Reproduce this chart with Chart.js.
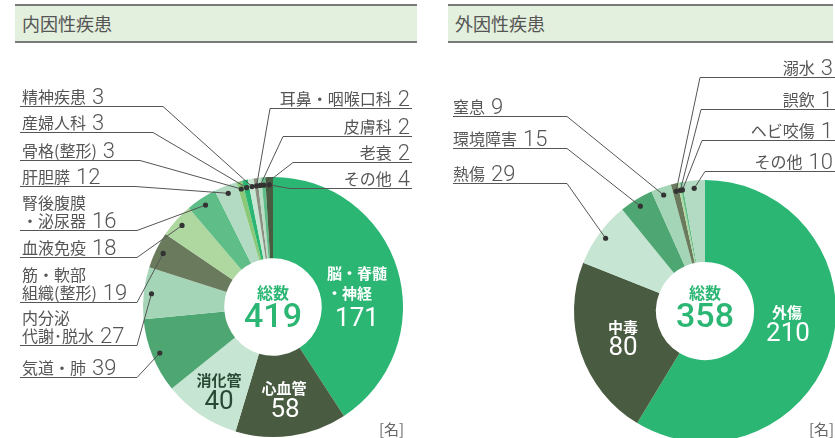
<!DOCTYPE html>
<html>
<head>
<meta charset="utf-8">
<script src="https://cdn.jsdelivr.net/npm/chart.js@4"></script>
<style>
html, body { margin: 0; padding: 0; width: 835px; height: 438px; overflow: hidden; background: #fff; }
.bar { position: absolute; top: 4px; height: 35px; background: #e3f0dd; border-top: 2px solid #7a7a7a; border-bottom: 2px solid #7a7a7a;
       font: 18px "Noto Sans CJK JP"; color: #555; line-height: 35px; padding-left: 7px; box-sizing: border-box; height: 39px; }
.unit { position: absolute; top: 418px; font: 15px "Noto Sans CJK JP"; color: #666; }
canvas { position: absolute; top: 0; }
</style>
</head>
<body>
<div class="bar" style="left:15px;width:402px">内因性疾患</div>
<div class="bar" style="left:448px;width:385px">外因性疾患</div>
<canvas id="naiinChart" width="420" height="438" style="left:0"></canvas>
<canvas id="gaiinChart" width="500" height="460" style="left:420px"></canvas>
<div class="unit" style="left:379px">[名]</div>
<div class="unit" style="left:809px">[名]</div>
<script>
// 内因性疾患
const naiinLabels = ['脳・脊髄・神経', '心血管', '消化管', '気道・肺', '内分泌代謝・脱水', '筋・軟部組織(整形)', '血液免疫',
    '腎後腹膜・泌尿器', '肝胆膵', '骨格(整形)', '産婦人科', '精神疾患', '耳鼻・咽喉口科', '皮膚科', '老衰', 'その他'];
const naiinValues = [171, 58, 40, 39, 27, 19, 18, 16, 12, 3, 3, 3, 2, 2, 2, 4];
const naiinColors = ['#2bb673', '#495b40', '#c6e5d2', '#4ea672', '#a4d5b6', '#6a7a5c', '#aed8a0', '#5fbd87',
    '#b3dac2', '#8bc878', '#2bb673', '#c6e5d2', '#8a8f80', '#b8dcc4', '#5fbd87', '#495b40'];

// 外因性疾患
const gaiinLabels = ['外傷', '中毒', '熱傷', '環境障害', '窒息', '溺水', '誤飲', 'ヘビ咬傷', 'その他'];
const gaiinValues = [210, 80, 29, 15, 9, 3, 1, 1, 10];
const gaiinColors = ['#2bb673', '#495b40', '#c6e5d2', '#4ea672', '#a4d5b6', '#6a7a5c', '#aed8a0', '#5fbd87', '#b3dac2'];

// 引き出し線の配置 (ページ座標)
const naiinCallouts = [
    { i: 11, side: 'L', lines: ['精神疾患'], y: 106, x0: 20, x1: 163 },
    { i: 10, side: 'L', lines: ['産婦人科'], y: 132, x0: 20, x1: 153 },
    { i: 9, side: 'L', lines: ['骨格(整形)'], y: 160, x0: 20, x1: 140 },
    { i: 8, side: 'L', lines: ['肝胆膵'], y: 186, x0: 20, x1: 135 },
    { i: 7, side: 'L', lines: ['腎後腹膜', '・泌尿器'], y: 230, x0: 20, x1: 137 },
    { i: 6, side: 'L', lines: ['血液免疫'], y: 257, x0: 20, x1: 137 },
    { i: 5, side: 'L', lines: ['筋・軟部', '組織(整形)'], y: 302, x0: 20, x1: 137 },
    { i: 4, side: 'L', lines: ['内分泌', '代謝･脱水'], y: 345, x0: 20, x1: 137 },
    { i: 3, side: 'L', lines: ['気道・肺'], y: 377, x0: 20, x1: 137 },
    { i: 12, side: 'R', lines: ['耳鼻・咽喉口科'], y: 108, x0: 270, x1: 412 },
    { i: 13, side: 'R', lines: ['皮膚科'], y: 136, x0: 283, x1: 412 },
    { i: 14, side: 'R', lines: ['老衰'], y: 162, x0: 293, x1: 412 },
    { i: 15, side: 'R', lines: ['その他'], y: 188, x0: 290, x1: 412 }
];
const gaiinCallouts = [
    { i: 5, side: 'R', lines: ['溺水'], y: 77, x0: 700, x1: 840 },
    { i: 6, side: 'R', lines: ['誤飲'], y: 109, x0: 701, x1: 840 },
    { i: 7, side: 'R', lines: ['ヘビ咬傷'], y: 140, x0: 702, x1: 840 },
    { i: 8, side: 'R', lines: ['その他'], y: 171, x0: 705, x1: 840 },
    { i: 4, side: 'L', lines: ['窒息'], y: 116, x0: 453, x1: 567 },
    { i: 3, side: 'L', lines: ['環境障害'], y: 148, x0: 453, x1: 567 },
    { i: 2, side: 'L', lines: ['熱傷'], y: 183, x0: 453, x1: 567 }
];

// 円の中のラベル (中心からのずれ)
const naiinInner = [
    { i: 0, lines: ['脳・脊髄', '・神経'], dx: 54, dy: -34, align: 'left', color: '#fff', numDx: 84, numDy: 12 },
    { i: 1, lines: ['心血管'], dx: 11, dy: 81, align: 'center', color: '#fff', numDx: 12, numDy: 103 },
    { i: 2, lines: ['消化管'], dx: -54, dy: 73, align: 'center', color: '#284a34', numDx: -54, numDy: 95 }
];
const gaiinInner = [
    { i: 0, lines: ['外傷'], dx: 82, dy: 1, align: 'center', color: '#fff', numDx: 83, numDy: 23 },
    { i: 1, lines: ['中毒'], dx: -82, dy: 16, align: 'center', color: '#fff', numDx: -82, numDy: 37 }
];

const JP = '"Noto Sans CJK JP"';
const NUM = 'Roboto, "Liberation Sans"';

const calloutPlugin = {
    id: 'callouts',
    afterDatasetsDraw(chart, args, opts) {
        const ctx = chart.ctx;
        const arcs = chart.getDatasetMeta(0).data;
        const vals = chart.data.datasets[0].data;
        const ox = opts.ox;
        ctx.save();
        opts.items.forEach(c => {
            const a = arcs[c.i];
            const mid = (a.startAngle + a.endAngle) / 2;
            const r = a.outerRadius * 0.94;
            const px = a.x + Math.cos(mid) * r;
            const py = a.y + Math.sin(mid) * r;
            const ex = (c.side === 'L' ? c.x1 : c.x0) - ox;
            const ly = c.y + 0.5;
            ctx.strokeStyle = '#555';
            ctx.lineWidth = 1;
            ctx.beginPath();
            ctx.moveTo(c.x0 - ox, ly);
            ctx.lineTo(c.x1 - ox, ly);
            ctx.moveTo(ex, ly);
            ctx.lineTo(px, py);
            ctx.stroke();
            ctx.fillStyle = '#333';
            ctx.beginPath();
            ctx.arc(px, py, 2.6, 0, Math.PI * 2);
            ctx.fill();

            ctx.fillStyle = '#555';
            ctx.textBaseline = 'alphabetic';
            const base = c.y - 3;
            const n = c.lines.length;
            const num = String(vals[c.i]);
            if (c.side === 'L') {
                const tx = 22 + (ox ? 453 - 22 - ox : 0);
                ctx.textAlign = 'left';
                c.lines.forEach((t, k) => {
                    ctx.font = '16px ' + JP;
                    const yy = base - (n - 1 - k) * 18;
                    ctx.fillText(t, tx, yy);
                    if (k === n - 1) {
                        const w = ctx.measureText(t).width;
                        ctx.font = '300 22px ' + NUM;
                        ctx.fillText(num, tx + w + 6, yy + 1);
                    }
                });
            } else {
                const tx = (ox ? 833 : 410) - ox;
                ctx.textAlign = 'right';
                ctx.font = '300 22px ' + NUM;
                const nw = ctx.measureText(num).width;
                ctx.fillText(num, tx, base + 1);
                ctx.font = '16px ' + JP;
                ctx.fillText(c.lines[0], tx - nw - 6, base);
            }
        });
        ctx.restore();
    }
};

const innerPlugin = {
    id: 'innerText',
    afterDatasetsDraw(chart, args, opts) {
        const ctx = chart.ctx;
        const arcs = chart.getDatasetMeta(0).data;
        const vals = chart.data.datasets[0].data;
        const cx = arcs[0].x, cy = arcs[0].y;
        const total = vals.reduce((s, v) => s + v, 0);
        ctx.save();
        ctx.textBaseline = 'middle';
        ctx.textAlign = 'center';
        ctx.fillStyle = '#2bb673';
        ctx.font = 'bold 16px ' + JP;
        ctx.fillText('総数', cx, cy + opts.centerDy - 14);
        ctx.font = '500 34px ' + NUM;
        ctx.fillText(String(total), cx, cy + opts.centerDy + 11);
        opts.items.forEach(t => {
            ctx.fillStyle = t.color;
            ctx.textAlign = t.align;
            ctx.font = 'bold 15px ' + JP;
            t.lines.forEach((s, k) => ctx.fillText(s, cx + t.dx, cy + t.dy + k * 20));
            ctx.textAlign = 'center';
            ctx.font = '26px ' + NUM;
            ctx.fillText(String(vals[t.i]), cx + t.numDx, cy + t.numDy);
        });
        ctx.restore();
    }
};

new Chart(document.getElementById('naiinChart'), {
    type: 'doughnut',
    data: {
        labels: naiinLabels,
        datasets: [{ data: naiinValues, backgroundColor: naiinColors, borderWidth: 0 }]
    },
    options: {
        responsive: false,
        animation: false,
        cutout: '37.5%',
        layout: { padding: { left: 143, right: 17, top: 177, bottom: 1 } },
        plugins: {
            legend: { display: false },
            tooltip: { enabled: false },
            callouts: { items: naiinCallouts, ox: 0 },
            innerText: { items: naiinInner, centerDy: 0 }
        }
    },
    plugins: [calloutPlugin, innerPlugin]
});

new Chart(document.getElementById('gaiinChart'), {
    type: 'doughnut',
    data: {
        labels: gaiinLabels,
        datasets: [{ data: gaiinValues, backgroundColor: gaiinColors, borderWidth: 0 }]
    },
    options: {
        responsive: false,
        animation: false,
        cutout: '37.5%',
        layout: { padding: { left: 154, right: 84, top: 180, bottom: 18 } },
        plugins: {
            legend: { display: false },
            tooltip: { enabled: false },
            callouts: { items: gaiinCallouts, ox: 420 },
            innerText: { items: gaiinInner, centerDy: -4 }
        }
    },
    plugins: [calloutPlugin, innerPlugin]
});
</script>
</body>
</html>
